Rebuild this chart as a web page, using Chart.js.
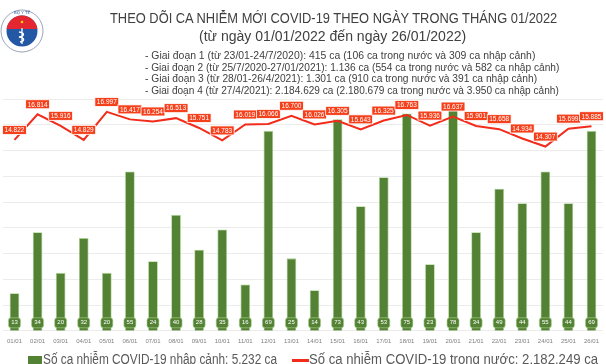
<!DOCTYPE html>
<html>
<head>
<meta charset="utf-8">
<script src="https://cdn.jsdelivr.net/npm/chart.js@4/dist/chart.umd.min.js"></script>
<style>
  body { margin: 0; width: 606px; height: 364px; overflow: hidden; background: #fff; position: relative; font-family: "Liberation Sans", Arial, sans-serif; color: #404040; }
  #wrap { position: absolute; left: 0; top: 0; width: 606px; height: 364px; }
  .t { position: absolute; white-space: nowrap; line-height: 1; transform-origin: 0 0; }
  #title { left: 110px; top: 11px; font-size: 14px; }
  #sub { left: 199px; top: 29px; font-size: 14px; }
  .g { left: 145px; font-size: 10.5px; }
  .lg { color: #595959; font-size: 14px; }
  .sw { position: absolute; }
</style>
</head>
<body>
<div id="wrap"><canvas id="chart"></canvas></div>

<svg style="position:absolute;left:0;top:8px" width="46" height="46" viewBox="0 0 46 46">
  <defs><clipPath id="top"><rect x="0" y="0" width="46" height="21"/></clipPath></defs>
  <circle cx="22" cy="23" r="21" fill="#fff" stroke="#9aa4b8" stroke-width="1"/>
  <circle cx="22" cy="23" r="15.5" fill="#2457a4"/>
  <circle cx="22" cy="23" r="15.5" fill="#e3262f" clip-path="url(#top)"/>
  <text x="22" y="6" font-size="4" text-anchor="middle" fill="#2457a4" font-family="DejaVu Sans">BỘ Y TẾ</text>
  <circle cx="22" cy="14" r="1.3" fill="#ffd700"/>
  <path d="M22 20 L22 36 M19 24 C25 25 25 28 19 29 C25 30 25 33 20 34" stroke="#fff" stroke-width="1.3" fill="none"/>
</svg>

<div class="t" id="title" data-w="447">THEO DÕI CA NHIỄM MỚI COVID-19 THEO NGÀY TRONG THÁNG 01/2022</div>
<div class="t" id="sub" data-w="267">(từ ngày 01/01/2022 đến ngày 26/01/2022)</div>
<div class="t g" style="top:50px" data-w="390">- Giai đoạn 1 (từ 23/01-24/7/2020): 415 ca (106 ca trong nước và 309 ca nhập cảnh)</div>
<div class="t g" style="top:61.7px" data-w="414">- Giai đoạn 2 (từ 25/7/2020-27/01/2021): 1.136 ca (554 ca trong nước và 582 ca nhập cảnh)</div>
<div class="t g" style="top:73.4px" data-w="392">- Giai đoạn 3 (từ 28/01-26/4/2021): 1.301 ca (910 ca trong nước và 391 ca nhập cảnh)</div>
<div class="t g" style="top:85px" data-w="414">- Giai đoạn 4 (từ 27/4/2021): 2.184.629 ca (2.180.679 ca trong nước và 3.950 ca nhập cảnh)</div>

<div class="sw" style="left:28px;top:356px;width:14px;height:14px;background:#548235"></div>
<div class="t lg" id="lgBar" style="left:43px;top:352px" data-w="234"></div>
<div class="sw" style="left:292px;top:359px;width:17px;height:3px;background:#f22b1b"></div>
<div class="t lg" id="lgLine" style="left:309px;top:352px" data-w="289"></div>

<script>
// days of January 2022
const days = ['01/01', '02/01', '03/01', '04/01', '05/01', '06/01', '07/01', '08/01', '09/01', '10/01',
    '11/01', '12/01', '13/01', '14/01', '15/01', '16/01', '17/01', '18/01', '19/01', '20/01',
    '21/01', '22/01', '23/01', '24/01', '25/01', '26/01'];

// imported cases (bars)
const importedCases = [13, 34, 20, 32, 20, 55, 24, 40, 28, 35, 16, 69, 25, 14, 73, 43, 53, 75, 23, 78,
    34, 49, 44, 55, 44, 69];

// domestic cases (line)
const domesticCases = [14822, 16814, 15916, 14829, 16997, 16417, 16254, 16513, 15751, 14783,
    16019, 16066, 16700, 16026, 16305, 15643, 16325, 16763, 15936, 16637,
    15901, 15658, 14934, 14307, 15699, 15885];

const legendLabels = ['Số ca nhiễm COVID-19 nhập cảnh: 5.232 ca', 'Số ca nhiễm COVID-19 trong nước: 2.182.249 ca'];

document.getElementById('lgBar').textContent = legendLabels[0];
document.getElementById('lgLine').textContent = legendLabels[1];

// squeeze header / legend text to the width it has in the picture
document.querySelectorAll('[data-w]').forEach(el => {
    const w = parseFloat(el.dataset.w);
    el.style.transform = `scaleX(${w / el.scrollWidth})`;
});

const BAR_GREEN = '#548235';
const LINE_RED = '#f22b1b';
const LABEL_RED = '#f5401c';

function fmt(v) {
    return v.toLocaleString('de-DE');
}

function roundRect(ctx, x, y, w, h, r) {
    ctx.beginPath();
    ctx.moveTo(x + r, y);
    ctx.arcTo(x + w, y, x + w, y + h, r);
    ctx.arcTo(x + w, y + h, x, y + h, r);
    ctx.arcTo(x, y + h, x, y, r);
    ctx.arcTo(x, y, x + w, y, r);
    ctx.closePath();
}

// value boxes for both series
const valueLabels = {
    id: 'valueLabels',
    afterDatasetsDraw(chart) {
        const ctx = chart.ctx;
        ctx.save();
        ctx.textAlign = 'center';
        ctx.textBaseline = 'middle';

        // bar labels near the base
        const barMeta = chart.getDatasetMeta(0);
        const base = chart.scales.y1.getPixelForValue(0);
        ctx.font = '6px "Liberation Sans", sans-serif';
        barMeta.data.forEach((bar, i) => {
            const w = 12, h = 10;
            roundRect(ctx, bar.x - w / 2, base - 13, w, h, 2.5);
            ctx.fillStyle = BAR_GREEN;
            ctx.fill();
            ctx.strokeStyle = '#a9d18e';
            ctx.lineWidth = 0.6;
            ctx.stroke();
            ctx.fillStyle = '#fff';
            ctx.fillText(String(importedCases[i]), bar.x, base - 8);
        });

        // line labels above each point
        const lineMeta = chart.getDatasetMeta(1);
        ctx.font = '6.5px "Liberation Sans", sans-serif';
        lineMeta.data.forEach((pt, i) => {
            const text = fmt(domesticCases[i]);
            const w = ctx.measureText(text).width + 4, h = 9;
            const cy = pt.y - 10;
            ctx.fillStyle = LABEL_RED;
            ctx.fillRect(pt.x - w / 2, cy - h / 2, w, h);
            ctx.strokeStyle = '#fff';
            ctx.lineWidth = 0.8;
            ctx.strokeRect(pt.x - w / 2, cy - h / 2, w, h);
            ctx.fillStyle = '#fff';
            ctx.fillText(text, pt.x, cy + 0.5);
        });
        ctx.restore();
    }
};

new Chart(document.getElementById('chart'), {
    data: {
        labels: days,
        datasets: [
            {
                type: 'bar',
                label: legendLabels[0],
                data: importedCases,
                yAxisID: 'y1',
                backgroundColor: BAR_GREEN,
                borderColor: '#a9d18e',
                borderWidth: 0.8,
                barPercentage: 0.42,
                categoryPercentage: 1,
                order: 2
            },
            {
                type: 'line',
                label: legendLabels[1],
                data: domesticCases,
                yAxisID: 'y',
                borderColor: LINE_RED,
                borderWidth: 2,
                pointRadius: 0,
                tension: 0,
                order: 1
            }
        ]
    },
    plugins: [valueLabels],
    options: {
        responsive: true,
        maintainAspectRatio: false,
        animation: false,
        layout: {
            padding: { top: 99, bottom: 12, left: 0, right: 2 }
        },
        scales: {
            x: {
                grid: { display: false, drawTicks: false },
                border: { display: false },
                ticks: {
                    color: '#7f7f7f',
                    font: { family: '"Liberation Sans", sans-serif', size: 6 },
                    padding: 7,
                    maxRotation: 0,
                    autoSkip: false
                }
            },
            y: {
                position: 'left',
                min: 0,
                max: 18000,
                grid: { color: '#ececec', drawTicks: false },
                border: { display: false },
                ticks: { display: false, stepSize: 2000 }
            },
            y1: {
                display: false,
                min: 0,
                max: 80
            }
        },
        plugins: {
            legend: { display: false },
            title: { display: false },
            tooltip: { enabled: false }
        }
    }
});
</script>
</body>
</html>
